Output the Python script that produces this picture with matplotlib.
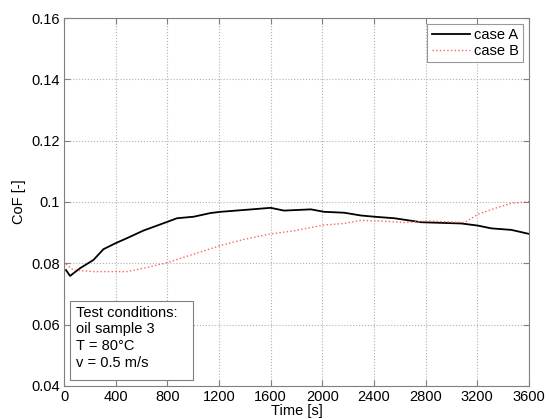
import matplotlib
matplotlib.use('Agg')
import matplotlib.pyplot as plt
from matplotlib.patches import Rectangle

plt.rcParams['font.family'] = ['Liberation Sans', 'DejaVu Sans']

# case A (black, solid)
t_a = [15, 47, 124, 228, 305, 396, 487, 616, 746, 875, 1004, 1134, 1212, 1393,
       1600, 1703, 1911, 2014, 2170, 2299, 2402, 2558, 2765, 3076, 3205, 3309,
       3464, 3600]
cof_a = [0.0778, 0.0759, 0.0784, 0.0811, 0.0846, 0.0865, 0.0882, 0.0907, 0.0927,
         0.0947, 0.0952, 0.0964, 0.0968, 0.0974, 0.0981, 0.0972, 0.0976, 0.0968,
         0.0965, 0.0956, 0.0952, 0.0947, 0.0934, 0.0930, 0.0923, 0.0914, 0.0909,
         0.0896]

# case B (red, dotted)
t_b = [15, 72, 228, 487, 616, 797, 1004, 1212, 1393, 1600, 1781, 2014, 2170,
       2299, 2454, 2635, 2817, 3102, 3205, 3334, 3464, 3600]
cof_b = [0.0798, 0.0778, 0.0773, 0.0773, 0.0784, 0.0802, 0.0830, 0.0858, 0.0878,
         0.0896, 0.0906, 0.0925, 0.0930, 0.0940, 0.0938, 0.0933, 0.0938, 0.0933,
         0.0960, 0.0979, 0.0996, 0.1001]

xticks = [0, 400, 800, 1200, 1600, 2000, 2400, 2800, 3200, 3600]
yticks = [0.04, 0.06, 0.08, 0.1, 0.12, 0.14, 0.16]
ytick_labels = ['0.04', '0.06', '0.08', '0.1', '0.12', '0.14', '0.16']

fig = plt.figure(figsize=(5.5, 4.19), dpi=100)
ax = fig.add_axes([0.1164, 0.0788, 0.8454, 0.8782])

ax.plot(t_a, cof_a, color='black', lw=1.3, label='case A')
ax.plot(t_b, cof_b, color='#ff6060', lw=1.0, ls=':', label='case B')

ax.set_xlim(0, 3600)
ax.set_ylim(0.04, 0.16)
ax.set_xticks(xticks)
ax.set_yticks(yticks)
ax.set_yticklabels(ytick_labels)
ax.tick_params(direction='in', top=True, right=True, labelsize=10.5, length=4,
               color='#808080', pad=3)
for s in ax.spines.values():
    s.set_color('#808080')
ax.grid(True, ls=':', color='#b0b0b0', lw=0.8)

ax.set_xlabel('Time [s]', fontsize=10.5, labelpad=0)
ax.set_ylabel('CoF [-]', fontsize=10.5, labelpad=4)

leg = ax.legend(loc='upper right', fontsize=10.5, frameon=True, fancybox=False,
                borderpad=0.3, handlelength=2.6, labelspacing=0.1,
                handletextpad=0.3, borderaxespad=0.4)
leg.get_frame().set_edgecolor('#808080')
leg.get_frame().set_linewidth(0.8)

# annotation box (fixed size, like the MATLAB textbox)
ax.add_patch(Rectangle((0.013, 0.016), 0.264, 0.216, transform=ax.transAxes,
                       fc='white', ec='#808080', lw=0.8, zorder=5))
ax.text(0.026, 0.218, 'Test conditions:\noil sample 3\nT = 80°C\nv = 0.5 m/s',
        transform=ax.transAxes, fontsize=10.5, va='top', ha='left',
        linespacing=1.24, zorder=6)

fig.savefig('out.png', dpi=100)
